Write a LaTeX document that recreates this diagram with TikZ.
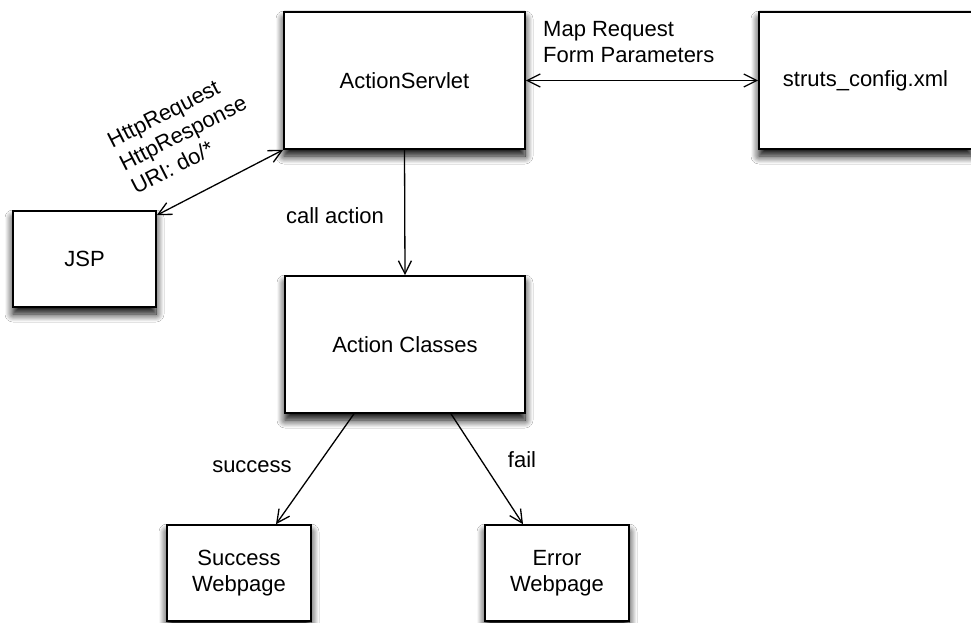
\documentclass[tikz,border=0pt]{standalone}
\usepackage{fontspec}
\setmainfont{Liberation Sans}
\usetikzlibrary{arrows.meta,shadows.blur}
\begin{document}
\begin{tikzpicture}[x=1pt,y=-1pt,
  font=\fontsize{22}{26}\selectfont,
  box/.style={draw=black, line width=1.6pt, fill=white, inner sep=0pt, align=center,
    blur shadow={shadow xshift=0pt, shadow yshift=-7pt, shadow blur radius=8pt, shadow opacity=100, shadow blur steps=12}},
  conn/.style={line width=1.3pt, draw=black},
  tip/.style={-{Straight Barb[length=13pt,width=13pt,line width=1.3pt]}},
  bitip/.style={{Straight Barb[length=13pt,width=13pt,line width=1.3pt]}-{Straight Barb[length=13pt,width=13pt,line width=1.3pt]}},
  lbl/.style={inner sep=0pt, align=left}]
\useasboundingbox (0,0) rectangle (971,623);
\clip (0,0) rectangle (971,623);
\fill[white] (0,0) rectangle (971,623);

\node[box, minimum width=241pt, minimum height=137pt] (as) at (404.5,80.5) {ActionServlet};
\node[box, minimum width=213pt, minimum height=137pt] (st) at (865.5,80.5) {struts\_config.xml};
\node[box, minimum width=143pt, minimum height=96pt] (jsp) at (84.5,259) {JSP};
\node[box, minimum width=240pt, minimum height=137pt] (ac) at (405,344.5) {Action Classes};
\node[box, minimum width=144pt, minimum height=96pt] (sw) at (239,573) {Success\\Webpage};
\node[box, minimum width=144pt, minimum height=96pt] (ew) at (557,573) {Error\\Webpage};

\draw[conn, bitip] ([yshift=-5pt]jsp.north east) -- (as.south west);
\draw[conn, bitip] (as.east) -- (st.west);
\draw[conn, tip] (as.south) -- (ac.north);
\draw[conn, tip] ([xshift=-51pt]ac.south) -- ([xshift=37pt]sw.north);
\draw[conn, tip] ([xshift=46pt]ac.south) -- ([xshift=-34pt]ew.north);

\node[inner sep=0pt] (http) at (184,135) {\rotatebox{27}{\begin{tabular}{@{}l@{}}HttpRequest\\HttpResponse\\URI: do/*\end{tabular}}};
\node[lbl, anchor=west] (map) at (543,42) {Map Request\\Form Parameters};
\node[lbl] (call) at (335,216) {call action};
\node[lbl] (succ) at (252,467) {success};
\node[lbl] (fail) at (522,460) {fail};
\end{tikzpicture}
\end{document}
